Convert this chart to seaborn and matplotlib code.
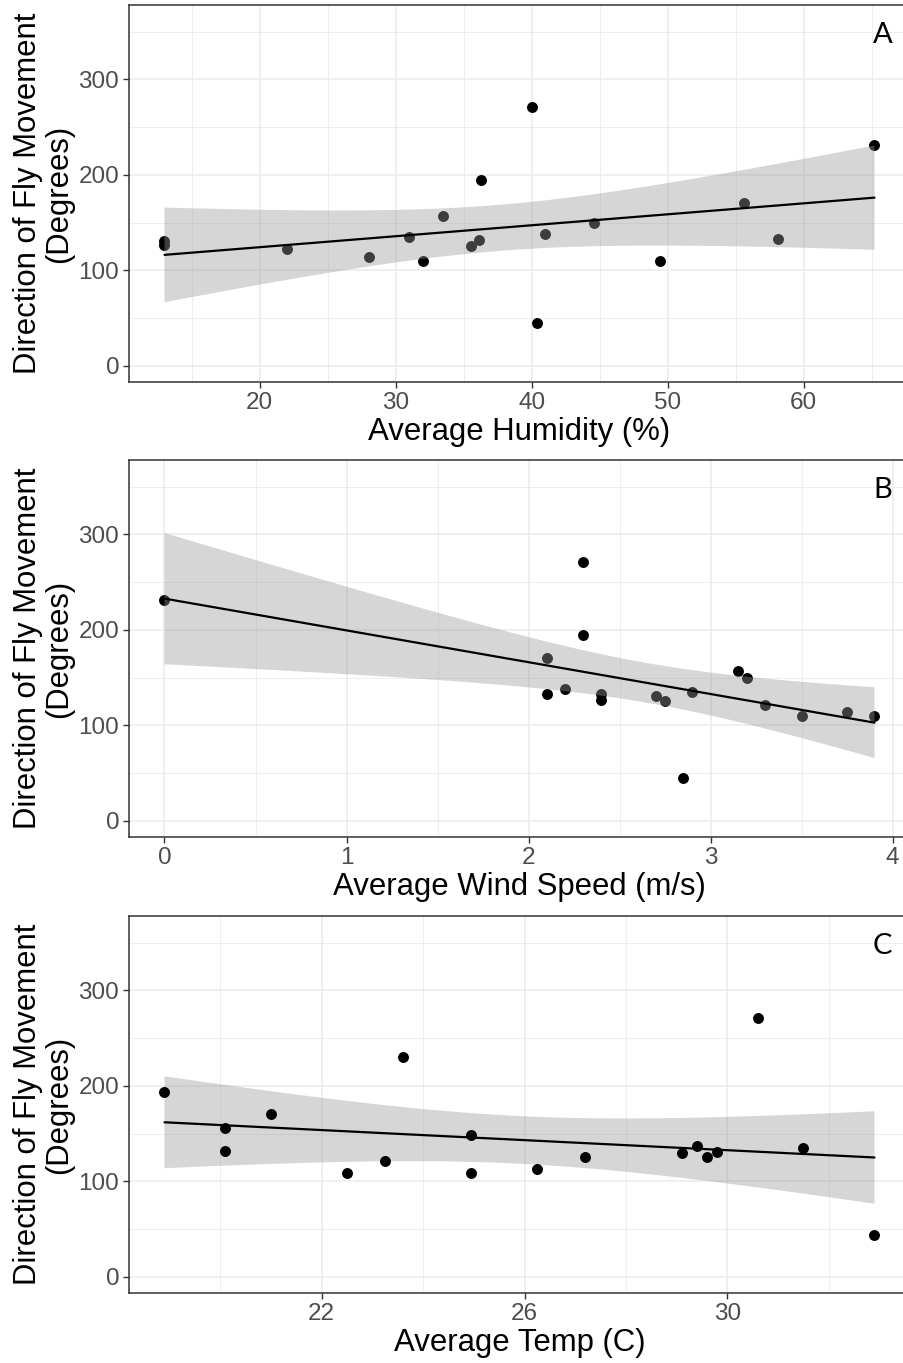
import numpy as np
import pandas as pd
import matplotlib
matplotlib.use("Agg")
import matplotlib.pyplot as plt
import seaborn as sns
from matplotlib.ticker import FixedLocator

# ---------------- data ----------------
humidity = [13, 13, 22, 28, 31, 32, 33.5, 35.5, 36.1, 36.3, 40, 40.4, 41, 44.6, 49.4, 55.6, 58.1, 65.2]
direction_a = [131, 127, 122, 114, 135, 110, 157, 126, 132, 195, 271, 45, 138, 150, 110, 171, 133, 231]

wind = [0, 2.1, 2.1, 2.2, 2.3, 2.3, 2.4, 2.4, 2.7, 2.75, 2.85, 2.9, 3.15, 3.2, 3.3, 3.5, 3.75, 3.9]
direction_b = [231, 171, 133, 138, 271, 195, 133, 127, 131, 125, 45, 135, 157, 150, 121, 110, 114, 110]

temp = [18.9, 20.1, 20.1, 21.0, 22.5, 23.25, 23.6, 24.95, 24.95, 26.25, 27.2, 29.1, 29.4, 29.6, 29.8, 30.6, 31.5, 32.9]
direction_c = [194, 156, 132, 171, 109, 121, 230, 149, 109, 113, 125, 130, 137, 126, 131, 271, 135, 44]

x_labels = ["Average Humidity (%)", "Average Wind Speed (m/s)", "Average Temp (C)"]
panel_letters = ["A", "B", "C"]
y_label = "Direction of Fly Movement\n(Degrees)"
y_major = [0, 100, 200, 300]
y_minor = [50, 150, 250, 350]
x_major = [[20, 30, 40, 50, 60], [0, 1, 2, 3, 4], [22, 26, 30]]
x_minor = [[15, 25, 35, 45, 55, 65], [0.5, 1.5, 2.5, 3.5], [20, 24, 28, 32]]


def t_quantile(df):
    try:
        from scipy import stats
        return stats.t.ppf(0.975, df)
    except Exception:
        # bisection on Student-t CDF via numerical integration
        from math import gamma, sqrt, pi
        c = gamma((df + 1) / 2) / (sqrt(df * pi) * gamma(df / 2))
        def cdf(t):
            xs = np.linspace(0, t, 4001)
            f = c * (1 + xs ** 2 / df) ** (-(df + 1) / 2)
            return 0.5 + np.trapezoid(f, xs)
        lo, hi = 0.0, 10.0
        for _ in range(60):
            mid = (lo + hi) / 2
            if cdf(mid) < 0.975:
                lo = mid
            else:
                hi = mid
        return (lo + hi) / 2


def lm_band(xs, ys, grid):
    x = np.asarray(xs, float)
    y = np.asarray(ys, float)
    n = len(x)
    b1, b0 = np.polyfit(x, y, 1)
    resid = y - (b0 + b1 * x)
    s = np.sqrt(np.sum(resid ** 2) / (n - 2))
    sxx = np.sum((x - x.mean()) ** 2)
    se = s * np.sqrt(1 / n + (grid - x.mean()) ** 2 / sxx)
    fit = b0 + b1 * grid
    t = t_quantile(n - 2)
    return fit - t * se, fit + t * se


# ---------------- style ----------------
sns.set_theme(style="white")
plt.rcParams["font.family"] = ["Liberation Sans", "DejaVu Sans"]

W, H = 904, 1363
fig = plt.figure(figsize=(W / 100, H / 100), dpi=100)

left_px, right_px = 129, 910
panel_tops = [5, 460, 916]
panel_h = 377

datasets = [(humidity, direction_a), (wind, direction_b), (temp, direction_c)]
grid_col = "#EBEBEB"
frame_col = "#333333"

for i, (xs, ys) in enumerate(datasets):
    top = panel_tops[i]
    ax = fig.add_axes([left_px / W, (H - top - panel_h) / H,
                       (right_px - left_px) / W, panel_h / H])
    df = pd.DataFrame({"x": xs, "y": ys})
    sns.regplot(data=df, x="x", y="y", ax=ax, ci=None, truncate=True,
                scatter_kws=dict(s=62, color="black", linewidths=0,
                                 alpha=1, zorder=(3 if i == 2 else 1)),
                line_kws=dict(color="black", linewidth=1.6, zorder=2))
    # 95% confidence ribbon of the linear fit (ggplot-like grey60, alpha .4)
    grid = np.linspace(min(xs), max(xs), 100)
    low, high = lm_band(xs, ys, grid)
    ax.fill_between(grid, low, high, facecolor="#999999", alpha=0.4,
                    edgecolor="none", zorder=1.5)

    lo, hi = min(xs), max(xs)
    pad = 0.05 * (hi - lo)
    ax.set_xlim(lo - pad, hi + pad)
    ax.set_ylim(-17, 378)

    ax.xaxis.set_major_locator(FixedLocator(x_major[i]))
    ax.xaxis.set_minor_locator(FixedLocator(x_minor[i]))
    ax.yaxis.set_major_locator(FixedLocator(y_major))
    ax.yaxis.set_minor_locator(FixedLocator(y_minor))
    ax.grid(True, which="major", color=grid_col, linewidth=1.1)
    ax.grid(True, which="minor", color=grid_col, linewidth=0.6)
    ax.set_axisbelow(True)

    ax.tick_params(axis="both", which="major", length=4, width=1,
                   color=frame_col, labelsize=17.5, labelcolor="#4D4D4D",
                   direction="out", bottom=True, left=True, pad=3)
    ax.tick_params(axis="both", which="minor", length=0)
    for s in ax.spines.values():
        s.set_visible(True)
        s.set_color(frame_col)
        s.set_linewidth(1.1)

    ax.set_xlabel(x_labels[i], fontsize=22.4, color="black", labelpad=2.5)
    ax.set_ylabel(y_label, fontsize=22.4, color="black", labelpad=3,
                  linespacing=1.05)

    ax.text(0.965, 0.92, panel_letters[i], transform=ax.transAxes,
            fontsize=21, family=["Lato", "DejaVu Sans"], ha="center",
            va="center", color="black")

fig.savefig("out.png", dpi=100, facecolor="white")
